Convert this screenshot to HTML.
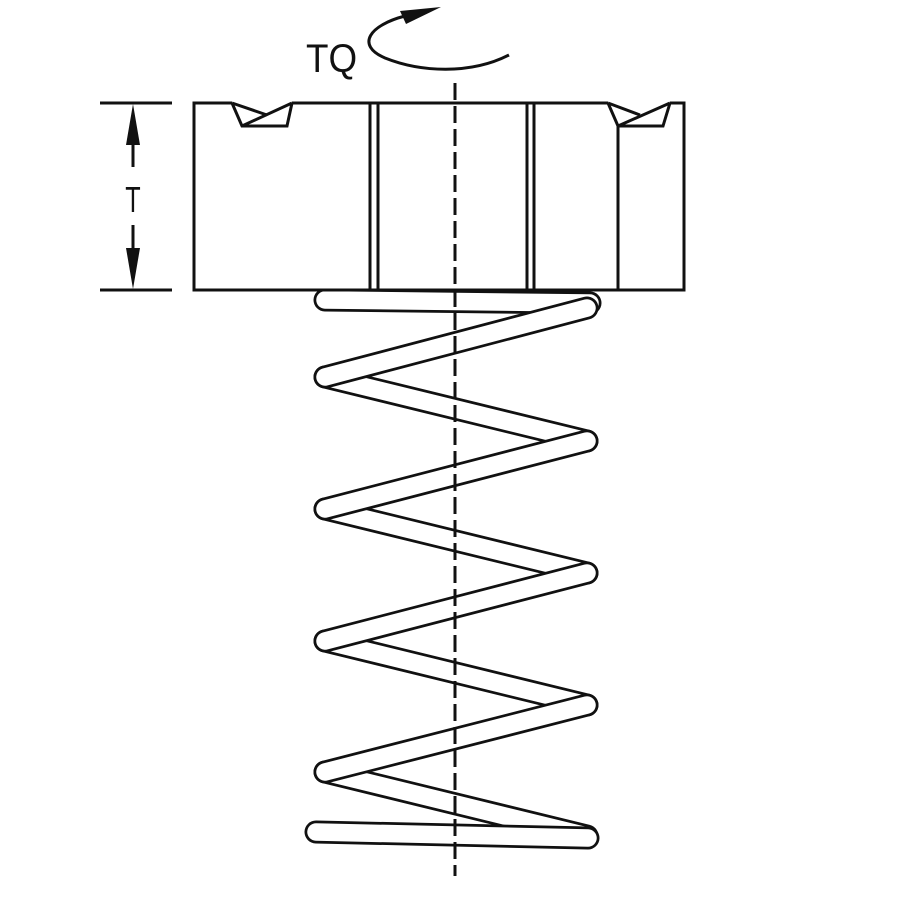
<!DOCTYPE html>
<html><head><meta charset="utf-8"><style>html,body{margin:0;padding:0;background:#fff}svg{display:block}</style></head>
<body>
<svg width="900" height="900" viewBox="0 0 900 900" xmlns="http://www.w3.org/2000/svg">
<g fill="none" stroke-linecap="round">
<g>
<path d="M325,300 L590,303" stroke="#111" stroke-width="23"/><path d="M325,300 L590,303" stroke="#fff" stroke-width="17.5"/>
<path d="M325,377 L587,441" stroke="#111" stroke-width="23"/><path d="M325,377 L587,441" stroke="#fff" stroke-width="17.5"/>
<path d="M325,509 L587,573" stroke="#111" stroke-width="23"/><path d="M325,509 L587,573" stroke="#fff" stroke-width="17.5"/>
<path d="M325,641 L587,705" stroke="#111" stroke-width="23"/><path d="M325,641 L587,705" stroke="#fff" stroke-width="17.5"/>
<path d="M325,772 L587,836" stroke="#111" stroke-width="23"/><path d="M325,772 L587,836" stroke="#fff" stroke-width="17.5"/>
</g>
<g>
<path d="M325,377 L587,308" stroke="#111" stroke-width="23"/><path d="M325,377 L587,308" stroke="#fff" stroke-width="17.5"/>
<path d="M325,509 L587,441" stroke="#111" stroke-width="23"/><path d="M325,509 L587,441" stroke="#fff" stroke-width="17.5"/>
<path d="M325,641 L587,573" stroke="#111" stroke-width="23"/><path d="M325,641 L587,573" stroke="#fff" stroke-width="17.5"/>
<path d="M325,772 L587,705" stroke="#111" stroke-width="23"/><path d="M325,772 L587,705" stroke="#fff" stroke-width="17.5"/>
<path d="M316,832 L588,838" stroke="#111" stroke-width="23"/><path d="M316,832 L588,838" stroke="#fff" stroke-width="17.5"/>
</g>
</g>
<!-- block -->
<rect x="194" y="103" width="490" height="187" fill="#fff" stroke="none"/>
<g stroke="#111" stroke-width="3" fill="none" stroke-linejoin="miter">
<path d="M232,103 L194,103 L194,290 L684,290 L684,103 L670,103"/>
<line x1="292" y1="103" x2="608" y2="103"/>
<line x1="370" y1="103" x2="370" y2="290"/><line x1="378" y1="103" x2="378" y2="290"/>
<line x1="527" y1="103" x2="527" y2="290"/><line x1="534" y1="103" x2="534" y2="290"/>
<line x1="618" y1="126" x2="618" y2="290"/>
<path d="M232,103 L242,126 L287,126 L292,103"/>
<path d="M232,103 L267,115"/><path d="M292,103 L242,126"/>
<path d="M608,103 L618,126 L663,126 L670,103"/>
<path d="M608,103 L640,115"/><path d="M670,103 L618,126"/>
</g>
<!-- dimension -->
<g stroke="#111" stroke-width="3">
<line x1="100" y1="103" x2="172" y2="103"/><line x1="100" y1="290" x2="172" y2="290"/>
<line x1="133" y1="140" x2="133" y2="167"/><line x1="133" y1="225" x2="133" y2="250"/>
</g>
<path d="M133,104 L126,145 L140,145z" fill="#111"/>
<path d="M133,289 L126,248 L140,248z" fill="#111"/>
<text x="133" y="212" font-family="Liberation Sans, sans-serif" font-size="36" text-anchor="middle" fill="#111" transform="translate(133 0) scale(0.7 1) translate(-133 0)">T</text>
<!-- torque -->
<text x="306" y="72" font-family="Liberation Sans, sans-serif" font-size="40" fill="#111" transform="translate(306 0) scale(0.92 1) translate(-306 0)">TQ</text>
<path d="M509,55 C470,75 420,72 385,58 C355,45 370,25 405,16" fill="none" stroke="#111" stroke-width="3"/>
<path d="M441,7 L400,11 L406,24z" fill="#111"/>
<!-- centerline -->
<line x1="455" y1="83" x2="455" y2="876" stroke="#111" stroke-width="3" stroke-dasharray="17,6"/>
</svg>
</body></html>
